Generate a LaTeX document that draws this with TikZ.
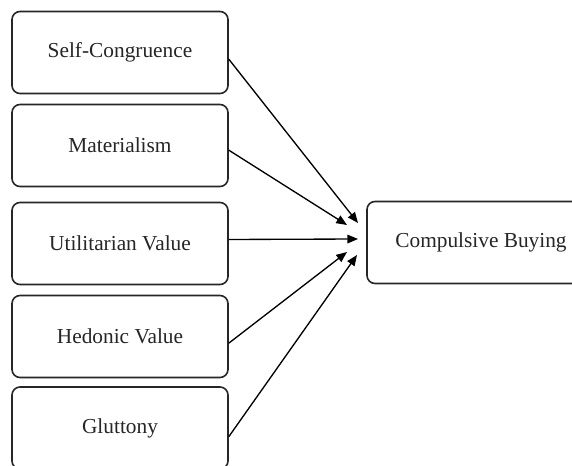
\documentclass[tikz,border=0pt]{standalone}
\usepackage{fontspec}
\setmainfont{Liberation Serif}
\usetikzlibrary{positioning, arrows.meta}

\begin{document}
\begin{tikzpicture}[x=0.75pt, y=-0.75pt,
    factor/.style={draw=black!85, line width=1.2pt, rounded corners=6pt, fill=white,
        minimum width=162pt, minimum height=61.5pt, font=\fontsize{16}{19}\selectfont, text=black!85},
    link/.style={line width=1pt, -{Triangle[length=8pt, width=6.5pt]}}]
  \useasboundingbox (0,0) rectangle (572,466);
  \node[factor] (congruence) at (120,52.5) {Self-Congruence};
  \node[factor] (materialism) at (120,145.5) {Materialism};
  \node[factor] (utilitarian) at (120,243.5) {Utilitarian Value};
  \node[factor] (hedonic) at (120,336.5) {Hedonic Value};
  \node[factor] (gluttony) at (120,428) {Gluttony};
  \node[factor, minimum width=171pt] (buying) at (481,242.5) {Compulsive Buying};
  \coordinate (t1) at (358,223);
  \coordinate (t2) at (347,225);
  \coordinate (t3) at (358,239);
  \coordinate (t4) at (347,252);
  \coordinate (t5) at (357,255);
  \draw[link] ([yshift=-5pt]congruence.east) -- (t1);
  \draw[link] ([yshift=-3.5pt]materialism.east) -- (t2);
  \draw[link] ([yshift=3pt]utilitarian.east) -- (t3);
  \draw[link] ([yshift=-5pt]hedonic.east) -- (t4);
  \draw[link] ([yshift=-6.5pt]gluttony.east) -- (t5);
\end{tikzpicture}
\end{document}
